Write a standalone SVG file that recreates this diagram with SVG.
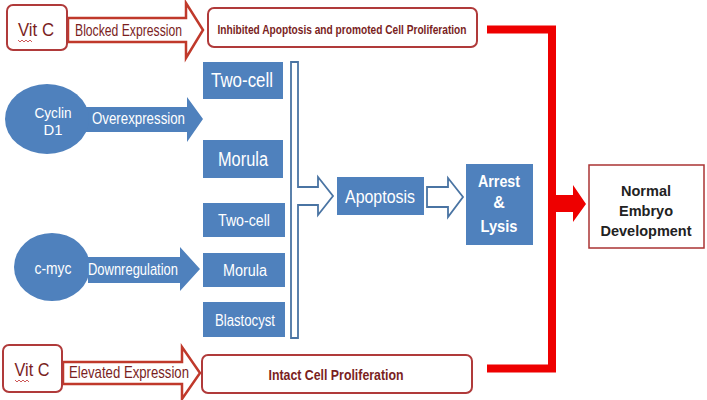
<svg xmlns="http://www.w3.org/2000/svg" width="707" height="400" viewBox="0 0 707 400">
<style>
.rbox{fill:#fff;stroke:#b03a3a;stroke-width:2}
.rarrow{fill:#fff;stroke:#c0392b;stroke-width:2.5}
.blue{fill:#4f81bd}
.wt{fill:#fff;font-family:"Liberation Sans",Arial,sans-serif}
.rt{fill:#7a1e1e;font-family:"Liberation Sans",Arial,sans-serif}
.dt{fill:#222;font-family:"Liberation Sans",Arial,sans-serif;font-weight:bold}
.bo{fill:#fff;stroke:#4a74a3;stroke-width:1.8}
.red{fill:#ee0000}
.sq{fill:none;stroke:#c03030;stroke-width:0.8}
</style>
<rect width="707" height="400" fill="#fff"/>

<g id="connectors">
  <path class="rarrow" d="M68,18 H186 V3 L203,30 L186,58 V42 H68 Z"/>
  <path class="rarrow" d="M63,362 H182 V347 L200,373 L182,399 V384 H63 Z"/>
  <path class="blue" d="M85,107 H187 V97 L203,119 L187,142 V132 H85 Z"/>
  <path class="blue" d="M88,257 H180 V247 L200,269 L180,291 V283 H88 Z"/>
  <path class="bo" d="M291,62 H298 V187 H318 V177 L333,196 L318,215 V205 H298 V338 H291 Z"/>
  <path class="bo" d="M427,187 H448 V178 L463,197 L448,217 V207 H427 Z"/>
  <path fill="none" stroke="#ee0000" stroke-width="8" d="M487,29.5 H552 V368.5 H487"/>
  <path class="red" d="M552,195 H573 V185 L586,204 L573,222 V212 H552 Z"/>
</g>

<g id="vitc-top">
  <rect class="rbox" x="7" y="5" width="60" height="45" rx="6"/>
  <text class="rt" x="36" y="36" font-size="19" text-anchor="middle" textLength="36" lengthAdjust="spacingAndGlyphs">Vit C</text>
  <path class="sq" d="M18,40 l2,2 l2,-2 l2,2 l2,-2 l2,2 l2,-2 l2,2"/>
</g>
<g id="blocked-label">
  <text class="rt" x="75" y="36" font-size="16.5" textLength="107" lengthAdjust="spacingAndGlyphs">Blocked Expression</text>
</g>
<g id="inhibited">
  <rect class="rbox" x="208" y="8" width="269" height="39" rx="6"/>
  <text class="rt" x="342" y="34" font-size="13" font-weight="bold" text-anchor="middle" textLength="249" lengthAdjust="spacingAndGlyphs">Inhibited Apoptosis and promoted Cell Proliferation</text>
</g>

<g id="cyclin">
  <ellipse class="blue" cx="47" cy="119" rx="42" ry="35"/>
  <text class="wt" x="53" y="118" font-size="15.5" text-anchor="middle" textLength="37" lengthAdjust="spacingAndGlyphs">Cyclin</text>
  <text class="wt" x="53" y="135" font-size="15.5" text-anchor="middle" textLength="19" lengthAdjust="spacingAndGlyphs">D1</text>
</g>
<g id="overexpression-label">
  <text class="wt" x="92" y="124" font-size="17" textLength="93" lengthAdjust="spacingAndGlyphs">Overexpression</text>
</g>

<g id="twocell1">
  <rect class="blue" x="203" y="62" width="80" height="37"/>
  <text class="wt" x="242" y="87" font-size="20" text-anchor="middle" textLength="62" lengthAdjust="spacingAndGlyphs">Two-cell</text>
</g>
<g id="morula1">
  <rect class="blue" x="203" y="140" width="80" height="38"/>
  <text class="wt" x="243" y="166" font-size="20" text-anchor="middle" textLength="50" lengthAdjust="spacingAndGlyphs">Morula</text>
</g>

<g id="cmyc">
  <ellipse class="blue" cx="52" cy="267" rx="38" ry="34"/>
  <text class="wt" x="53" y="274" font-size="16" text-anchor="middle" textLength="37" lengthAdjust="spacingAndGlyphs">c-myc</text>
</g>
<g id="downregulation-label">
  <text class="wt" x="88" y="275" font-size="17" textLength="90" lengthAdjust="spacingAndGlyphs">Downregulation</text>
</g>

<g id="twocell2">
  <rect class="blue" x="203" y="203" width="82" height="34"/>
  <text class="wt" x="244" y="226" font-size="16" text-anchor="middle" textLength="52" lengthAdjust="spacingAndGlyphs">Two-cell</text>
</g>
<g id="morula2">
  <rect class="blue" x="203" y="253" width="82" height="34"/>
  <text class="wt" x="245" y="276" font-size="16" text-anchor="middle" textLength="44" lengthAdjust="spacingAndGlyphs">Morula</text>
</g>
<g id="blastocyst">
  <rect class="blue" x="203" y="302" width="82" height="35"/>
  <text class="wt" x="245" y="326" font-size="16" text-anchor="middle" textLength="60" lengthAdjust="spacingAndGlyphs">Blastocyst</text>
</g>

<g id="apoptosis">
  <rect class="blue" x="337" y="177" width="87" height="38"/>
  <text class="wt" x="380" y="203" font-size="19" text-anchor="middle" textLength="70" lengthAdjust="spacingAndGlyphs">Apoptosis</text>
</g>
<g id="arrest">
  <rect class="blue" x="466" y="164" width="67" height="81"/>
  <text class="wt" x="499" y="187" font-size="16" font-weight="bold" text-anchor="middle" textLength="42" lengthAdjust="spacingAndGlyphs">Arrest</text>
  <text class="wt" x="499" y="208" font-size="16" font-weight="bold" text-anchor="middle">&amp;</text>
  <text class="wt" x="499" y="232" font-size="16" font-weight="bold" text-anchor="middle" textLength="37" lengthAdjust="spacingAndGlyphs">Lysis</text>
</g>

<g id="normal">
  <rect x="589" y="165" width="115" height="83" fill="#fff" stroke="#a33" stroke-width="1.5"/>
  <text class="dt" x="646" y="196" font-size="14.5" text-anchor="middle">Normal</text>
  <text class="dt" x="646" y="216" font-size="14.5" text-anchor="middle">Embryo</text>
  <text class="dt" x="646" y="236" font-size="14.5" text-anchor="middle">Development</text>
</g>

<g id="vitc-bottom">
  <rect class="rbox" x="3" y="345" width="59" height="47" rx="6"/>
  <text class="rt" x="32" y="376" font-size="19" text-anchor="middle" textLength="35" lengthAdjust="spacingAndGlyphs">Vit C</text>
  <path class="sq" d="M15,380 l2,2 l2,-2 l2,2 l2,-2 l2,2 l2,-2 l2,2"/>
</g>
<g id="elevated-label">
  <text class="rt" x="69" y="378" font-size="16.5" textLength="120" lengthAdjust="spacingAndGlyphs">Elevated Expression</text>
</g>
<g id="intact">
  <rect class="rbox" x="202" y="355" width="270" height="38" rx="6"/>
  <text class="rt" x="336" y="380" font-size="15" font-weight="bold" text-anchor="middle" textLength="135" lengthAdjust="spacingAndGlyphs">Intact Cell Proliferation</text>
</g>
</svg>
